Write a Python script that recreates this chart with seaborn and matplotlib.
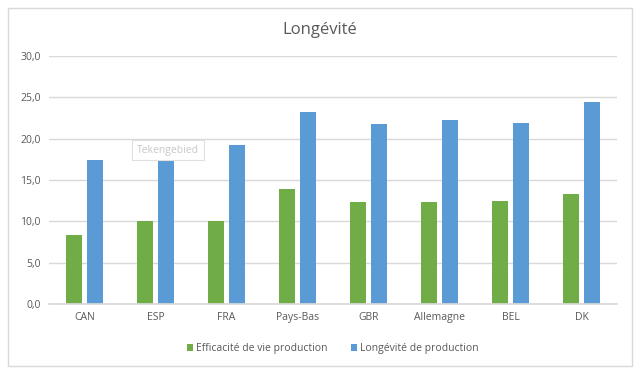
import matplotlib
matplotlib.use("Agg")
import matplotlib.pyplot as plt
import seaborn as sns
import pandas as pd
from matplotlib.patches import Rectangle

categories = ["CAN", "ESP", "FRA", "Pays-Bas", "GBR", "Allemagne", "BEL", "DK"]
efficacite = [8.35, 10.0, 10.0, 13.9, 12.3, 12.3, 12.45, 13.3]
longevite = [17.4, 18.1, 19.2, 23.2, 21.8, 22.25, 21.9, 24.4]
series_names = ["Efficacité de vie production", "Longévité de production"]
yticks = [0, 5, 10, 15, 20, 25, 30]

df = pd.DataFrame({
    "pays": categories * 2,
    "valeur": efficacite + longevite,
    "serie": [series_names[0]] * len(categories) + [series_names[1]] * len(categories),
})

sns.set_theme(style="white")
plt.rcParams["font.family"] = ["Open Sans", "DejaVu Sans"]

fig = plt.figure(figsize=(6.39, 3.72), dpi=100)
ax = fig.add_axes([49 / 639, 1 - 304 / 372, 568 / 639, 248 / 372])

palette = {series_names[0]: "#70AD47", series_names[1]: "#5B9BD5"}
sns.barplot(data=df, x="pays", y="valeur", hue="serie", palette=palette,
            width=0.592, gap=0.24, ax=ax, saturation=1, legend=True, linewidth=0)

ax.set_ylim(0, 30)
ax.set_yticks(yticks)
ax.set_yticklabels([f"{v:.1f}".replace(".", ",") for v in yticks])
ax.yaxis.grid(True, color="#D9D9D9", linewidth=1)
ax.set_axisbelow(True)
for s in ["top", "right", "left"]:
    ax.spines[s].set_visible(False)
ax.spines["bottom"].set_color("#D9D9D9")
ax.tick_params(axis="both", length=0, labelsize=7.5, labelcolor="#595959", pad=6)
ax.set_xlabel("")
ax.set_ylabel("")

leg = ax.legend(loc="upper center", bbox_to_anchor=(0.5, -0.12), ncol=2, frameon=False,
                fontsize=7.5, handlelength=0.6, handleheight=0.7, handletextpad=0.3,
                columnspacing=2.2)
for t in leg.get_texts():
    t.set_color("#595959")

fig.text(320 / 639, 1 - 30 / 372, "Longévité", ha="center", va="center", fontsize=12, color="#595959")

# outer border
fig.patches.append(Rectangle((8 / 639, 6 / 372), 624 / 639, 358 / 372, transform=fig.transFigure,
                             fill=False, edgecolor="#D9D9D9", linewidth=1))

# tooltip
fig.text(168 / 639, 1 - 150 / 372, "Tekengebied", ha="center", va="center", fontsize=7.5,
         color="#C8C8C8",
         bbox=dict(boxstyle="square,pad=0.45", facecolor="white", edgecolor="#E0E0E0", linewidth=0.8))

fig.savefig("out.png", dpi=100)
